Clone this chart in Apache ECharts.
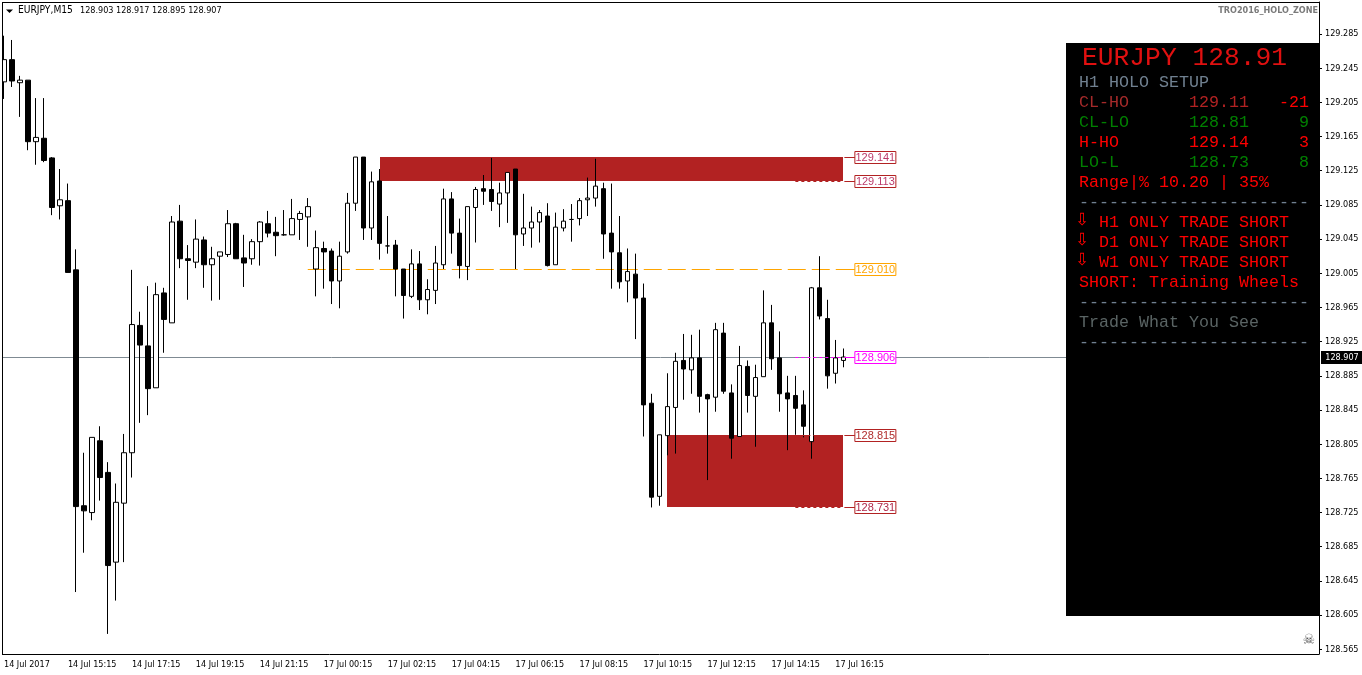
<!DOCTYPE html>
<html><head><meta charset="utf-8">
<style>html,body{margin:0;padding:0;background:#fff}#c{width:1362px;height:675px}</style>
<script src="https://cdn.jsdelivr.net/npm/echarts@6/dist/echarts.min.js"></script>
</head><body><div id="c"></div>
<script>
const opens=[129.229,129.255,129.228,129.231,129.159,129.163,129.140,129.084,129.090,129.009,128.733,128.725,128.809,128.772,128.667,128.736,128.795,128.944,128.920,128.871,128.982,128.947,129.066,129.022,129.018,129.044,129.015,129.025,129.027,129.063,129.023,129.022,129.042,129.063,129.053,129.050,129.050,129.068,129.071,129.010,129.034,129.031,128.996,129.030,129.087,129.141,129.058,129.113,129.037,129.038,129.010,128.978,129.016,128.974,128.985,129.015,129.092,129.052,129.013,129.082,129.104,129.103,129.086,129.099,129.127,129.051,129.058,129.065,129.072,129.015,129.058,129.068,129.069,129.091,129.093,129.104,129.052,129.029,128.996,129.004,128.976,128.853,128.744,128.815,128.848,128.903,128.892,128.906,128.863,128.860,128.935,128.865,128.814,128.896,128.861,128.884,128.947,128.906,128.865,128.862,128.851,128.808,128.988,128.952,128.888,128.903];
const closes=[129.255,129.230,129.231,129.159,129.164,129.137,129.082,129.091,129.006,128.732,128.727,128.813,128.766,128.663,128.737,128.795,128.945,128.921,128.870,128.980,128.951,129.065,129.022,129.020,129.045,129.015,129.022,129.030,129.063,129.022,129.017,129.042,129.065,129.052,129.049,129.050,129.069,129.075,129.083,129.035,129.030,128.996,129.025,129.087,129.141,129.058,129.112,129.040,129.037,129.010,128.979,129.016,128.974,128.986,129.017,129.092,129.052,129.014,129.083,129.103,129.101,129.089,129.099,129.123,129.050,129.058,129.065,129.076,129.014,129.059,129.066,129.068,129.090,129.093,129.107,129.051,129.030,128.995,129.007,128.976,128.851,128.743,128.816,128.849,128.902,128.893,128.906,128.861,128.858,128.939,128.867,128.812,128.897,128.862,128.883,128.947,128.905,128.864,128.858,128.847,128.826,128.988,128.955,128.885,128.906,128.907];
const lows=[129.209,129.223,129.188,129.149,129.132,129.135,129.073,129.068,129.006,128.632,128.678,128.716,128.739,128.583,128.622,128.667,128.766,128.830,128.839,128.871,128.912,128.947,129.011,128.974,129.011,128.988,128.973,128.974,129.024,129.022,128.989,129.015,129.014,129.047,129.025,129.049,129.050,129.044,129.036,128.978,128.987,128.969,128.964,129.028,129.078,129.044,129.044,129.021,129.028,128.978,128.952,128.976,128.962,128.957,128.969,129.010,129.028,128.999,128.997,129.041,129.085,129.078,129.059,129.064,129.010,129.037,129.035,129.041,129.013,129.015,129.054,129.042,129.061,129.072,129.083,129.022,128.987,128.987,128.971,128.928,128.814,128.731,128.733,128.792,128.794,128.857,128.864,128.842,128.763,128.843,128.864,128.788,128.814,128.842,128.802,128.884,128.892,128.843,128.798,128.816,128.813,128.788,128.951,128.870,128.876,128.895];
const highs=[129.283,129.278,129.236,129.231,129.210,129.210,129.141,129.127,129.110,129.033,128.795,128.813,128.826,128.784,128.759,128.817,129.009,128.960,128.990,128.994,128.988,129.072,129.085,129.038,129.068,129.048,129.036,129.030,129.079,129.064,129.050,129.045,129.066,129.078,129.071,129.079,129.092,129.078,129.093,129.055,129.042,129.034,129.042,129.099,129.141,129.141,129.124,129.127,129.072,129.044,129.010,129.033,129.031,128.998,129.037,129.104,129.100,129.069,129.083,129.106,129.120,129.140,129.111,129.123,129.127,129.098,129.083,129.079,129.087,129.076,129.080,129.086,129.093,129.117,129.139,129.111,129.110,129.072,129.034,129.028,128.993,128.864,128.816,128.888,128.912,128.934,128.933,128.939,128.864,128.947,128.947,128.875,128.920,128.903,128.898,128.985,128.968,128.937,128.885,128.885,128.868,128.989,129.025,128.974,128.927,128.917];
const xTickLabels=["14 Jul 2017","14 Jul 15:15","14 Jul 17:15","14 Jul 19:15","14 Jul 21:15","17 Jul 00:15","17 Jul 02:15","17 Jul 04:15","17 Jul 06:15","17 Jul 08:15","17 Jul 10:15","17 Jul 12:15","17 Jul 14:15","17 Jul 16:15"];
const yTicks=[129.285,129.245,129.205,129.165,129.125,129.085,129.045,129.005,128.965,128.925,128.885,128.845,128.805,128.765,128.725,128.685,128.645,128.605,128.565];
const zoneTop=[129.141,128.815];
const zoneBottom=[129.113,128.731];
const zoneStart=[47,83];
const levelPrices=[129.141,129.113,129.010,128.906,128.815,128.731];
const levelText=["129.141","129.113","129.010","128.906","128.815","128.731"];
const levelBorder=["#b22222","#b22222","#ffa500","#ff00ff","#b22222","#b22222"];
const levelInk=["#bb3a6a","#bb3a6a","#ffa500","#ff00ff","#b02c2c","#b0284a"];
const lastPrice=128.907;
const headerSymbol="EURJPY,M15";
const headerValues="128.903 128.917 128.895 128.907";
const indicatorName="TRO2016_HOLO_ZONE";
const panelTitle="EURJPY 128.91";
const panelRows=[["CL-HO","129.11","-21"],["CL-LO","128.81","9"],["H-HO","129.14","3"],["LO-L","128.73","8"]];
const panelRowLabelColors=["#a52a2a","#008000","#ff0000","#008000"];
const panelRowValueColors=["#b22222","#008000","#ff0000","#008000"];
const panelRowDeltaColors=["#ff0000","#008000","#ff0000","#008000"];
const panelTrades=["H1 ONLY TRADE SHORT","D1 ONLY TRADE SHORT","W1 ONLY TRADE SHORT"];
const rule="-----------------------";

const SLOTS=165;
const categories=Array.from({length:SLOTS},(_,i)=>i%8===0?(xTickLabels[i/8]||""):"");
const ohlc=opens.map((o,i)=>[o,closes[i],lows[i],highs[i]]);
const LAST=opens.length-1;
const shows=i=>i%8===0&&i<=LAST;
const mono="'Liberation Mono',monospace";
const sans="'DejaVu Sans Condensed','Liberation Sans',sans-serif";

const T=(x,y,text,fill,font,align)=>({type:'text',z:60,silent:true,style:{x,y,text,fill,font,align:align||'left',textAlign:align||'left',verticalAlign:'middle',textVerticalAlign:'middle'}});
const panel=[{type:'rect',z:50,silent:true,shape:{x:1066,y:43,width:254,height:573},style:{fill:'#000'}},
 T(1082,58,panelTitle,'#e01010',"26.3px "+mono),
 T(1079,82.5,"H1 HOLO SETUP",'#708090',"16.67px "+mono)];
panelRows.forEach((r,i)=>{const y=102.5+20*i;
 panel.push(T(1079,y,r[0],panelRowLabelColors[i],"16.67px "+mono));
 panel.push(T(1189,y,r[1],panelRowValueColors[i],"16.67px "+mono));
 panel.push(T(1309,y,r[2],panelRowDeltaColors[i],"16.67px "+mono,'right'));});
panel.push(T(1079,182.5,"Range|% 10.20 | 35%",'#ff0000',"16.67px "+mono));
panel.push(T(1079,202.5,rule,'#708090',"16.67px "+mono));
panelTrades.forEach((t,i)=>{const y=222.5+20*i;
 panel.push(T(1075,y-1.5,"\u21E9",'#ff0000',"17px 'DejaVu Sans'"));
 panel.push(T(1099,y,t,'#ff0000',"16.67px "+mono));});
panel.push(T(1079,282.5,"SHORT: Training Wheels",'#ff0000',"16.67px "+mono));
panel.push(T(1079,302.5,rule,'#708090',"16.67px "+mono));
panel.push(T(1079,322.5,"Trade What You See",'#5a6464',"16.67px "+mono));
panel.push(T(1079,342.5,rule,'#708090',"16.67px "+mono));

const frame=[
 {type:'rect',z:40,silent:true,shape:{x:0,y:0,width:2,height:655},style:{fill:'#fff'}},
 {type:'rect',z:41,silent:true,shape:{x:2,y:2,width:1,height:653},style:{fill:'#000'}},
 {type:'rect',z:41,silent:true,shape:{x:2,y:2,width:1317,height:1},style:{fill:'#000'}},
 {type:'polygon',z:42,silent:true,shape:{points:[[6,9.5],[13,9.5],[9.5,13]]},style:{fill:'#000'}},
 T(18,10.5,headerSymbol,'#000',"10.2px "+sans),
 T(80,10.5,headerValues,'#000',"9px "+sans),
 T(1318,10.5,indicatorName,'#7a7a7a',"bold 9px "+sans,'right'),
 T(1302.5,640,"\u2620",'#555',"14px 'DejaVu Sans'")
];

const option={animation:false,backgroundColor:'#fff',
 grid:{left:-1,top:2,width:1320,height:652},
 xAxis:{type:'category',data:categories,boundaryGap:true,
  axisLine:{onZero:false,lineStyle:{color:'#000',width:1}},
  axisTick:{alignWithLabel:true,length:3,interval:(i)=>shows(i),lineStyle:{color:'#000'}},
  axisLabel:{interval:(i)=>shows(i),align:'left',margin:6,color:'#000',fontFamily:"DejaVu Sans Condensed",fontSize:9,hideOverlap:false},
  splitLine:{show:false}},
 yAxis:{type:'value',position:'right',min:128.5595,max:129.32244,scale:true,
  axisLine:{show:true,onZero:false,lineStyle:{color:'#000',width:1}},
  axisTick:{show:true,length:3,customValues:yTicks,lineStyle:{color:'#000'}},
  axisLabel:{show:true,customValues:yTicks,margin:6,padding:[4,0,0,0],color:'#000',fontFamily:"DejaVu Sans Condensed",fontSize:9,formatter:v=>v.toFixed(3)},
  splitLine:{show:false}},
 series:[
  {type:'custom',name:'zones',z:1,clip:false,silent:true,
   data:zoneTop.map((t,i)=>[zoneStart[i],LAST,t,zoneBottom[i]]),encode:{x:[0,1],y:[2,3]},
   renderItem:(p,api)=>{const a=api.coord([api.value(0),api.value(2)]),b=api.coord([api.value(1),api.value(3)]);
    const y0=Math.floor(a[1]+0.05),y1=Math.floor(b[1]+0.05);
    return {type:'rect',shape:{x:Math.round(a[0]),y:y0,width:Math.round(b[0])-Math.round(a[0]),height:y1-y0},style:{fill:'#b22222'}};}},
  {type:'custom',name:'pivot',z:2,clip:false,silent:true,
   data:[[38,129.010]],encode:{x:0,y:1},
   renderItem:(p,api)=>{const a=api.coord([api.value(0),api.value(1)]),b=api.coord([LAST+1,api.value(1)]);
    const y=Math.floor(a[1])+0.5;
    return {type:'line',shape:{x1:a[0],y1:y,x2:b[0]+4,y2:y},style:{stroke:'#ffa500',lineWidth:1,lineDash:[18,6]}};}},
  {type:'custom',name:'price',z:2,clip:false,silent:true,
   data:[[0,lastPrice]],encode:{x:0,y:1},
   renderItem:(p,api)=>{const a=api.coord([0,api.value(1)]),b=api.coord([SLOTS-1,api.value(1)]);
    const y=Math.floor(a[1])+0.5;
    return {type:'line',shape:{x1:2,y1:y,x2:b[0]+4,y2:y},style:{stroke:'#7f8a92',lineWidth:1}};}},
  {type:'candlestick',name:'EURJPY',z:3,data:ohlc,barWidth:5,
   itemStyle:{color:'#fff',color0:'#000',borderColor:'#000',borderColor0:'#000',borderColorDoji:'#000',borderWidth:1}},
  {type:'custom',name:'levels',z:4,clip:false,silent:true,
   data:levelPrices.map(v=>[LAST,v]),encode:{x:0,y:1},
   renderItem:(p,api)=>{const i=p.dataIndex,a=api.coord([LAST,api.value(1)]);
    const y=Math.floor(a[1]+0.05)+0.5,x=a[0],kids=[];
    if(i!==2){kids.push({type:'line',shape:{x1:x-48,y1:y,x2:x,y2:y},style:{stroke:levelBorder[i],lineWidth:1,lineDash:[3,3]}});}
    kids.push({type:'line',shape:{x1:x+1,y1:y,x2:x+12,y2:y},style:{stroke:levelBorder[i],lineWidth:1}});
    kids.push({type:'rect',shape:{x:x+11.5,y:y-6,width:41,height:12},style:{fill:'#fff',stroke:levelBorder[i],lineWidth:1}});
    kids.push({type:'text',style:{x:x+32,y:y,text:levelText[i],fill:levelInk[i],font:"11px 'Liberation Sans'",align:'center',verticalAlign:'middle'}});
    return {type:'group',children:kids};}},
  {type:'custom',name:'lastTag',z:5,clip:false,silent:true,
   data:[[SLOTS-1,lastPrice]],encode:{x:0,y:1},
   renderItem:(p,api)=>{const a=api.coord([SLOTS-1,api.value(1)]),y=Math.floor(a[1])+0.5;
    return {type:'group',children:[
     {type:'rect',shape:{x:1321,y:y-6.5,width:41,height:13},style:{fill:'#000'}},
     {type:'text',style:{x:1342,y:y,text:api.value(1).toFixed(3),fill:'#fff',font:"9px "+sans,align:'center',verticalAlign:'middle'}}]};}}
 ],
 graphic:{elements:frame.concat(panel)}
};
const chart=echarts.init(document.getElementById('c'),null,{renderer:'canvas',width:1362,height:675});
chart.setOption(option);
</script></body></html>
